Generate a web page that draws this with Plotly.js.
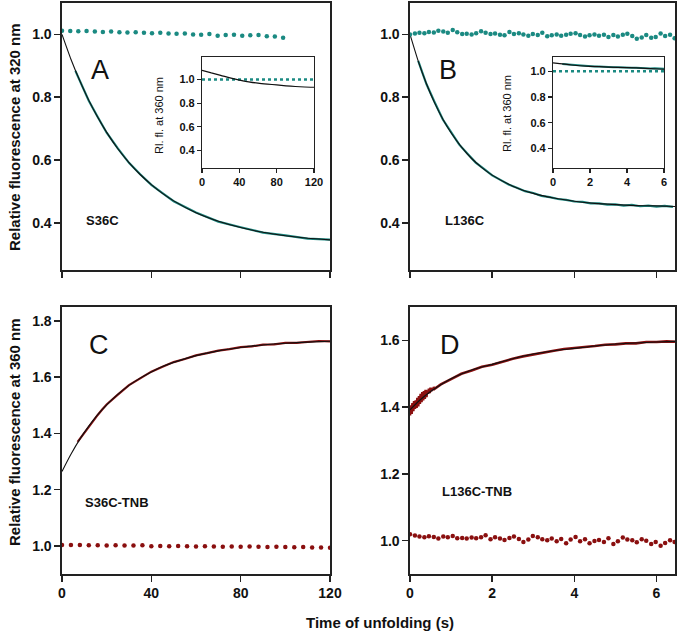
<!DOCTYPE html>
<html>
<head>
<meta charset="utf-8">
<script src="https://cdn.plot.ly/plotly-3.0.1.min.js"></script>
<style>html,body{margin:0;padding:0;background:#fff;}#chart{width:680px;height:644px;}</style>
</head>
<body>
<div id="chart"></div>
<script>
// ---------- Panel A (S36C, 320 nm) ----------
const tA_fit = [0,4,8,12,16,20,25,30,35,40,45,50,60,70,80,90,100,110,120];
const yA_fit = [1.000,0.921,0.852,0.790,0.736,0.688,0.636,0.592,0.554,0.522,0.494,0.470,0.432,0.405,0.385,0.370,0.359,0.351,0.346];
const tA_data = [6,8,12,16,20,25,30,35,40,45,50,60,70,80,90,100,110,120];
const yA_data = [0.884,0.853,0.789,0.737,0.687,0.637,0.591,0.555,0.521,0.495,0.469,0.433,0.404,0.386,0.369,0.360,0.350,0.347];
const tA_dots = [0,3.7,7.3,11,14.7,18.3,22,25.7,29.3,33,36.7,40.3,44,47.7,51.3,55,58.7,62.3,66,69.7,73.3,77,80.7,84.3,88,91.7,95.3,99];
const yA_dots = [1.012,1.011,1.010,1.011,1.009,1.008,1.009,1.007,1.006,1.007,1.005,1.004,1.005,1.003,1.002,1.003,1.000,0.999,1.001,0.996,0.998,0.999,0.996,0.997,0.998,0.994,0.993,0.989];
// inset A (360 nm)
const tAi_fit = [0,10,20,30,40,50,60,70,80,90,100,110,120];
const yAi_fit = [1.077,1.055,1.035,1.013,0.994,0.980,0.968,0.960,0.954,0.946,0.940,0.936,0.934];
const tAi_ref = [0,120];
const yAi_ref = [1.0,1.0];

// ---------- Panel B (L136C, 320 nm) ----------
const tB_fit = [0,0.2,0.4,0.6,0.8,1.0,1.25,1.5,1.75,2,2.5,3,3.5,4,4.5,5,5.5,6,6.45];
const yB_fit = [1.000,0.915,0.843,0.782,0.730,0.687,0.642,0.605,0.576,0.552,0.517,0.494,0.479,0.469,0.462,0.458,0.455,0.454,0.452];
const tB_data = [0.2,0.4,0.6,0.8,1.0,1.2,1.4,1.6,1.8,2.0,2.2,2.4,2.6,2.8,3.0,3.2,3.4,3.6,3.8,4.0,4.2,4.4,4.6,4.8,5.0,5.2,5.4,5.6,5.8,6.0,6.2,6.4];
const yB_data = [0.916,0.842,0.784,0.729,0.689,0.649,0.620,0.592,0.572,0.551,0.537,0.522,0.512,0.501,0.495,0.486,0.482,0.476,0.473,0.468,0.467,0.462,0.462,0.458,0.459,0.455,0.457,0.453,0.455,0.452,0.454,0.451];
const tB_dots = [0.00,0.12,0.23,0.35,0.46,0.58,0.69,0.81,0.92,1.04,1.15,1.27,1.38,1.50,1.61,1.73,1.84,1.96,2.07,2.19,2.30,2.42,2.53,2.65,2.76,2.88,2.99,3.11,3.22,3.34,3.45,3.57,3.68,3.80,3.91,4.03,4.14,4.26,4.37,4.49,4.60,4.72,4.83,4.95,5.06,5.18,5.29,5.41,5.52,5.64,5.75,5.87,5.98,6.10,6.21,6.33,6.44];
const yB_dots = [1.000,1.003,1.005,1.004,1.008,1.006,1.012,1.009,1.005,1.014,1.007,1.001,1.002,1.000,1.004,1.010,1.005,1.001,1.003,0.999,0.997,1.008,1.001,1.004,1.000,0.996,1.001,0.998,1.005,0.994,0.997,1.000,0.996,0.999,1.002,1.004,0.998,0.993,0.997,1.000,0.996,0.999,0.992,0.998,0.993,0.999,1.002,0.995,0.986,0.990,0.998,0.989,0.992,1.003,0.995,0.999,0.988];
// inset B (360 nm)
const tBi_fit = [0,1,2,3,4,5,6];
const yBi_fit = [1.064,1.048,1.038,1.032,1.028,1.022,1.015];
const tBi_data = [0.5,0.75,1.0,1.25,1.5,1.75,2.0,2.25,2.5,2.75,3.0,3.25,3.5,3.75,4.0,4.25,4.5,4.75,5.0,5.25,5.5,5.75,6.0];
const yBi_data = [1.056,1.053,1.049,1.045,1.044,1.040,1.039,1.036,1.036,1.033,1.033,1.030,1.031,1.028,1.029,1.026,1.027,1.024,1.025,1.021,1.022,1.018,1.018];
const tBi_ref = [0,6];
const yBi_ref = [1.0,1.0];

// ---------- Panel C (S36C-TNB, 360 nm) ----------
const tC_fit = [0,4,8,12,16,20,25,30,35,40,45,50,60,70,80,90,100,110,120];
const yC_fit = [1.265,1.326,1.380,1.426,1.467,1.502,1.539,1.571,1.597,1.619,1.638,1.653,1.677,1.694,1.706,1.715,1.721,1.725,1.728];
const tC_data = [7,8,10,12,14,16,18,20,25,30,35,40,45,50,55,60,65,70,75,80,85,90,95,100,105,110,115,120];
const yC_data = [1.370,1.381,1.402,1.424,1.446,1.466,1.485,1.503,1.538,1.572,1.596,1.620,1.637,1.654,1.665,1.678,1.686,1.695,1.700,1.707,1.710,1.716,1.717,1.722,1.722,1.726,1.729,1.728];
const tC_dots = [0,4,8,12,16,20,24,28,32,36,40,44,48,52,56,60,64,68,72,76,80,84,88,92,96,100,104,108,112,116,120];
const yC_dots = [1.003,1.003,1.003,1.002,1.002,1.001,1.002,1.001,1.001,1.002,0.999,1.000,0.999,1.000,0.999,0.998,0.999,0.998,0.997,0.998,0.997,0.998,0.997,0.996,0.997,0.996,0.995,0.996,0.994,0.994,0.993];

// ---------- Panel D (L136C-TNB, 360 nm) ----------
const tD_fit = [0,0.25,0.5,0.75,1.0,1.25,1.5,1.75,2,2.5,3,3.5,4,4.5,5,5.5,6,6.45];
const yD_fit = [1.392,1.422,1.447,1.467,1.485,1.499,1.511,1.520,1.528,1.545,1.559,1.569,1.576,1.583,1.589,1.592,1.595,1.597];
const tD_data = [0,0.02,0.04,0.06,0.08,0.10,0.12,0.14,0.16,0.18,0.20,0.22,0.24,0.26,0.28,0.30,0.32,0.34,0.36,0.38,0.40,0.42,0.44,0.46,0.48,0.50,0.52,0.54,0.56,0.58,0.60,
  0.75,1.0,1.25,1.5,1.75,2.0,2.25,2.5,2.75,3.0,3.25,3.5,3.75,4.0,4.25,4.5,4.75,5.0,5.25,5.5,5.75,6.0,6.25,6.45];
const yD_data = [1.375,1.405,1.380,1.412,1.388,1.418,1.395,1.420,1.398,1.428,1.402,1.433,1.410,1.440,1.415,1.445,1.420,1.448,1.425,1.452,1.430,1.450,1.440,1.455,1.442,1.458,1.448,1.456,1.452,1.460,1.455,
  1.468,1.484,1.500,1.510,1.521,1.527,1.537,1.545,1.552,1.558,1.565,1.569,1.574,1.576,1.580,1.583,1.587,1.588,1.591,1.591,1.595,1.595,1.597,1.596];
const tD_dots = [0.00,0.12,0.23,0.35,0.46,0.58,0.69,0.81,0.92,1.04,1.15,1.27,1.38,1.50,1.61,1.73,1.84,1.96,2.07,2.19,2.30,2.42,2.53,2.65,2.76,2.88,2.99,3.11,3.22,3.34,3.45,3.57,3.68,3.80,3.91,4.03,4.14,4.26,4.37,4.49,4.60,4.72,4.83,4.95,5.06,5.18,5.29,5.41,5.52,5.64,5.75,5.87,5.98,6.10,6.21,6.33,6.44];
const yD_dots = [1.019,1.015,1.012,1.010,1.013,1.011,1.006,1.012,1.010,1.014,1.007,1.008,1.006,1.009,1.007,1.010,1.016,1.004,1.010,1.006,1.002,1.008,1.012,1.005,0.996,1.003,1.014,1.010,1.004,1.001,1.006,0.998,1.005,0.992,1.003,1.011,0.998,1.004,0.992,0.999,1.002,0.996,1.007,0.990,0.998,1.009,1.003,1.001,0.995,1.004,1.000,0.990,0.996,0.985,0.993,1.001,0.996];

// ---------- tick values ----------
const ticks120 = [0,40,80,120];
const ticks6 = [0,2,4,6];
const ticksTop = [0.4,0.6,0.8,1.0];
const ticksC = [1.0,1.2,1.4,1.6,1.8];
const ticksD = [1.0,1.2,1.4,1.6];

const TEAL = '#1b8a82';
const RED = '#8a0f0f';
const W = 680, H = 644;
const px = x => x / W;
const py = y => 1 - y / H;

const traces = [];
function line(x, y, xa, ya, color, width, dash) {
  traces.push({x, y, xaxis: xa, yaxis: ya, type: 'scatter', mode: 'lines',
    line: {color, width, dash: dash || 'solid', shape: 'spline', smoothing: 0.6}, hoverinfo: 'skip'});
}
function rough(x, y, xa, ya, color, width) {
  traces.push({x, y, xaxis: xa, yaxis: ya, type: 'scatter', mode: 'lines',
    line: {color, width}, hoverinfo: 'skip'});
}
function dots(x, y, xa, ya, color, size) {
  traces.push({x, y, xaxis: xa, yaxis: ya, type: 'scatter', mode: 'markers',
    marker: {color, size: size || 4.5}, hoverinfo: 'skip'});
}

// A
rough(tA_data, yA_data, 'x', 'y', TEAL, 2.2);
line(tA_fit, yA_fit, 'x', 'y', '#111', 1.1);
dots(tA_dots, yA_dots, 'x', 'y', TEAL);
// B
rough(tB_data, yB_data, 'x2', 'y2', TEAL, 2.2);
line(tB_fit, yB_fit, 'x2', 'y2', '#111', 1.1);
dots(tB_dots, yB_dots, 'x2', 'y2', TEAL);
// C
rough(tC_data, yC_data, 'x3', 'y3', RED, 2.2);
line(tC_fit, yC_fit, 'x3', 'y3', '#111', 1.1);
dots(tC_dots, yC_dots, 'x3', 'y3', RED);
// D
rough(tD_data, yD_data, 'x4', 'y4', RED, 2.6);
line(tD_fit, yD_fit, 'x4', 'y4', '#111', 1.1);
dots(tD_dots, yD_dots, 'x4', 'y4', RED);
// inset A
line(tAi_ref, yAi_ref, 'x5', 'y5', TEAL, 2.5, 'dot');
line(tAi_fit, yAi_fit, 'x5', 'y5', '#111', 1.2);
// inset B
rough(tBi_data, yBi_data, 'x6', 'y6', TEAL, 2);
line(tBi_ref, yBi_ref, 'x6', 'y6', TEAL, 2.5, 'dot');
line(tBi_fit, yBi_fit, 'x6', 'y6', '#111', 1.2);

const FONT = 'Liberation Sans, Arial, sans-serif';
function ax(domain, range, tickvals, anchor, showlabels, size, lw, tl, fmt) {
  return {domain, range, tickvals, anchor, showticklabels: showlabels, tickformat: fmt || '',
    ticks: 'outside', ticklen: tl || 5, tickwidth: lw, tickcolor: '#222',
    showline: true, linecolor: '#222', linewidth: lw, mirror: true,
    showgrid: false, zeroline: false, fixedrange: true,
    tickfont: {family: FONT, size: size, color: '#111', weight: 'bold'}};
}

const layout = {
  width: W, height: H, margin: {l: 0, r: 0, t: 0, b: 0},
  paper_bgcolor: '#fff', plot_bgcolor: '#fff', showlegend: false,
  xaxis:  ax([px(62), px(330)], [0, 120], ticks120, 'y', false, 14, 1.6, 6),
  yaxis:  ax([py(270), py(3)], [0.25, 1.1], ticksTop, 'x', true, 14, 1.6, 6, '.1f'),
  xaxis2: ax([px(410), px(675)], [0, 6.45], ticks6, 'y2', false, 14, 1.6, 6),
  yaxis2: ax([py(270), py(3)], [0.25, 1.1], ticksTop, 'x2', true, 14, 1.6, 6, '.1f'),
  xaxis3: ax([px(62), px(330)], [0, 120], ticks120, 'y3', true, 14, 1.6, 6),
  yaxis3: ax([py(574), py(307)], [0.9, 1.85], ticksC, 'x3', true, 14, 1.6, 6, '.1f'),
  xaxis4: ax([px(410), px(675)], [0, 6.45], ticks6, 'y4', true, 14, 1.6, 6),
  yaxis4: ax([py(574), py(307)], [0.9, 1.7], ticksD, 'x4', true, 14, 1.6, 6, '.1f'),
  xaxis5: ax([px(202), px(314)], [0, 120], ticks120, 'y5', true, 11, 1.1, 4),
  yaxis5: ax([py(168), py(57)], [0.25, 1.19], ticksTop, 'x5', true, 11, 1.1, 4, '.1f'),
  xaxis6: ax([px(553), px(664)], [0, 6], ticks6, 'y6', true, 11, 1.1, 4),
  yaxis6: ax([py(168), py(57)], [0.25, 1.11], ticksTop, 'x6', true, 11, 1.1, 4, '.1f'),
  annotations: []
};
function note(text, x, y, size, bold, angle) {
  layout.annotations.push({text, x: px(x), y: py(y), xref: 'paper', yref: 'paper',
    xanchor: 'center', yanchor: 'middle', showarrow: false, textangle: angle || 0,
    font: {family: FONT, size, color: '#111', weight: bold ? 'bold' : 'normal'}});
}
note('A', 100, 70, 27, false);
note('B', 448, 70, 27, false);
note('C', 99, 345, 27, false);
note('D', 450, 345, 27, false);
note('S36C', 103, 220, 13, true);
note('L136C', 465, 220, 13, true);
note('S36C-TNB', 117, 502, 13, true);
note('L136C-TNB', 477, 491, 13, true);
note('Relative fluorescence at 320 nm', 14, 137, 15, true, -90);
note('Relative fluorescence at 360 nm', 14, 432, 15, true, -90);
note('Time of unfolding (s)', 380, 622, 15, true);
note('Rl. fl. at 360 nm', 159, 116, 11, false, -90);
note('Rl. fl. at 360 nm', 507, 114, 11, false, -90);

Plotly.newPlot('chart', traces, layout, {staticPlot: true, displayModeBar: false});
</script>
</body>
</html>
